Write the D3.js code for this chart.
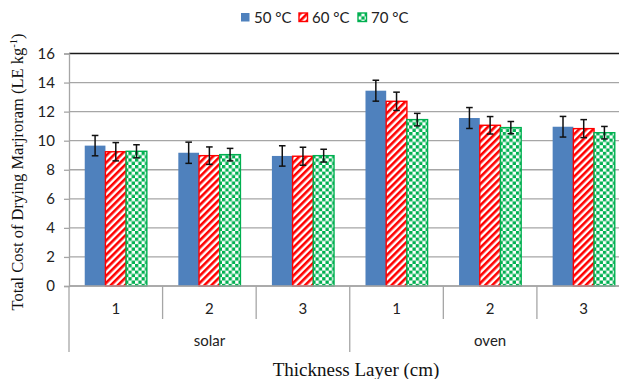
<!DOCTYPE html>
<html>
<head>
<meta charset="utf-8">
<script src="https://cdn.jsdelivr.net/npm/d3@7"></script>
<style>
  body { margin: 0; background: #fff; }
  svg { display: block; }
</style>
</head>
<body>
<script>
// data
var groups = ["solar", "oven"],
	layers = ["1", "2", "3"],
	seriesNames = ["50 °C", "60 °C", "70 °C"],
	cost50 = [9.66, 9.17, 8.95, 13.44, 11.56, 10.96],
	cost60 = [9.24, 8.97, 8.93, 12.71, 11.06, 10.83],
	cost70 = [9.27, 9.04, 8.97, 11.45, 10.90, 10.55],
	err50 = [0.70, 0.73, 0.70, 0.72, 0.72, 0.71],
	err60 = [0.63, 0.60, 0.62, 0.63, 0.60, 0.62],
	err70 = [0.45, 0.43, 0.44, 0.43, 0.42, 0.43],
	yTicks = [0, 2, 4, 6, 8, 10, 12, 14, 16];

var w = 619,
	h = 379,
	plotLeft = 69,
	plotRight = 630.5,
	plotTop = 53.5,
	base = 286,
	font = "Lato, 'Open Sans', sans-serif",
	serif = "'Liberation Serif', 'Times New Roman', serif";

var costs = [cost50, cost60, cost70],
	errs = [err50, err60, err70],
	fills = ["#4f81bd", "url(#stripes)", "url(#checks)"],
	strokes = ["none", "#ff0000", "#00b050"];

// one slot per (group, layer)
var slots = [];
groups.forEach(function(g, gi){
	layers.forEach(function(l, li){
		slots.push({group: g, layer: l, idx: gi * layers.length + li});
	});
});

var svg = d3.select("body")
	.append("svg")
	.attr("width", w)
	.attr("height", h);

var defs = svg.append("defs");
var st = defs.append("pattern")
	.attr("id", "stripes")
	.attr("patternUnits", "userSpaceOnUse")
	.attr("width", 5).attr("height", 5)
	.attr("patternTransform", "rotate(45)");
st.append("rect").attr("width", 5).attr("height", 5).attr("fill", "#fff");
st.append("rect").attr("width", 2.6).attr("height", 5).attr("fill", "#ff0000");

var ck = defs.append("pattern")
	.attr("id", "checks")
	.attr("patternUnits", "userSpaceOnUse")
	.attr("width", 6.6).attr("height", 6.6);
ck.append("rect").attr("width", 6.6).attr("height", 6.6).attr("fill", "#fff");
ck.append("rect").attr("width", 3.3).attr("height", 3.3).attr("fill", "#00b050");
ck.append("rect").attr("x", 3.3).attr("y", 3.3).attr("width", 3.3).attr("height", 3.3).attr("fill", "#00b050");

var x = d3.scaleBand()
	.domain(slots.map(function(d){ return d.idx; }))
	.range([plotLeft, plotRight]);

var xs = d3.scaleBand()
	.domain(d3.range(seriesNames.length))
	.range([0, x.bandwidth()])
	.paddingOuter(0.76);

var y = d3.scaleLinear()
	.domain([0, 16])
	.range([base, plotTop]);

// gridlines
svg.append("g").selectAll("line")
	.data(yTicks)
	.enter()
	.append("line")
	.attr("x1", plotLeft).attr("x2", plotRight)
	.attr("y1", function(d){ return y(d); })
	.attr("y2", function(d){ return y(d); })
	.attr("stroke", function(d){ return d === 16 ? "#1a1a1a" : "#a6a6a6"; })
	.attr("stroke-width", function(d){ return d === 16 ? 1.6 : 1.3; });

// y axis
var yAxis = svg.append("g")
	.attr("transform", "translate(" + plotLeft + ",0)")
	.call(d3.axisLeft(y).tickValues(yTicks).tickSize(5).tickPadding(9));
yAxis.select(".domain").attr("stroke", "#a6a6a6").attr("stroke-width", 1.3);
yAxis.selectAll(".tick line").attr("stroke", "#a6a6a6").attr("stroke-width", 1.3);
yAxis.selectAll("text")
	.attr("font-family", font)
	.attr("font-size", 15)
	.attr("fill", "#222");

// bars
var cols = svg.append("g").selectAll("g")
	.data(slots)
	.enter()
	.append("g")
	.attr("transform", function(d){ return "translate(" + x(d.idx) + ",0)"; });

seriesNames.forEach(function(name, si){
	cols.append("rect")
		.attr("x", xs(si))
		.attr("width", xs.bandwidth())
		.attr("y", function(d){ return y(costs[si][d.idx]); })
		.attr("height", function(d){ return base - y(costs[si][d.idx]); })
		.attr("fill", fills[si])
		.attr("stroke", strokes[si])
		.attr("stroke-width", 1.4);
});

// error bars
seriesNames.forEach(function(name, si){
	var eb = cols.append("g")
		.attr("stroke", "#111")
		.attr("stroke-width", 1.5);
	var cx = xs(si) + xs.bandwidth() / 2;
	eb.append("line")
		.attr("x1", cx).attr("x2", cx)
		.attr("y1", function(d){ return y(costs[si][d.idx] + errs[si][d.idx]); })
		.attr("y2", function(d){ return y(costs[si][d.idx] - errs[si][d.idx]); });
	eb.append("line")
		.attr("x1", cx - 3.3).attr("x2", cx + 3.3)
		.attr("y1", function(d){ return y(costs[si][d.idx] + errs[si][d.idx]); })
		.attr("y2", function(d){ return y(costs[si][d.idx] + errs[si][d.idx]); });
	eb.append("line")
		.attr("x1", cx - 3.3).attr("x2", cx + 3.3)
		.attr("y1", function(d){ return y(costs[si][d.idx] - errs[si][d.idx]); })
		.attr("y2", function(d){ return y(costs[si][d.idx] - errs[si][d.idx]); });
});

// baseline
svg.append("line")
	.attr("x1", plotLeft).attr("x2", plotRight)
	.attr("y1", base).attr("y2", base)
	.attr("stroke", "#a6a6a6").attr("stroke-width", 1.5);

// category axis: separators, layer labels, group labels
var seps = svg.append("g").attr("stroke", "#a6a6a6").attr("stroke-width", 1.3);
slots.forEach(function(d){
	var isGroupEdge = (d.idx % layers.length) === 0;
	seps.append("line")
		.attr("x1", x(d.idx)).attr("x2", x(d.idx))
		.attr("y1", base).attr("y2", isGroupEdge ? 352 : 319);
});
seps.append("line")
	.attr("x1", plotRight).attr("x2", plotRight)
	.attr("y1", base).attr("y2", 352);

svg.append("g").selectAll("text")
	.data(slots)
	.enter()
	.append("text")
	.attr("x", function(d){ return x(d.idx) + x.bandwidth() / 2; })
	.attr("y", 314)
	.attr("text-anchor", "middle")
	.attr("font-family", font)
	.attr("font-size", 15)
	.attr("fill", "#222")
	.text(function(d){ return d.layer; });

svg.append("g").selectAll("text")
	.data(groups)
	.enter()
	.append("text")
	.attr("x", function(g, gi){
		var a = x(gi * layers.length), b = x((gi + 1) * layers.length - 1) + x.bandwidth();
		return (a + b) / 2;
	})
	.attr("y", 346)
	.attr("text-anchor", "middle")
	.attr("font-family", font)
	.attr("font-size", 15)
	.attr("fill", "#222")
	.text(function(d){ return d; });

// axis titles
svg.append("text")
	.attr("x", 356)
	.attr("y", 376)
	.attr("text-anchor", "middle")
	.attr("font-family", serif)
	.attr("font-size", 19)
	.attr("fill", "#111")
	.text("Thickness Layer (cm)");

var yt = svg.append("text")
	.attr("transform", "translate(23,172) rotate(-90)")
	.attr("text-anchor", "middle")
	.attr("font-family", serif)
	.attr("font-size", 16.5)
	.attr("fill", "#111");
yt.append("tspan").text("Total Cost of Drying Marjroram (LE kg");
yt.append("tspan").attr("font-size", 10.5).attr("dy", -6).text("-1");
yt.append("tspan").attr("dy", 6).text(")");

// legend
var legendX = [241, 299, 358];
var lg = svg.append("g").selectAll("g")
	.data(seriesNames)
	.enter()
	.append("g")
	.attr("transform", function(d, i){ return "translate(" + legendX[i] + ",13)"; });
lg.append("rect")
	.attr("width", 8.5).attr("height", 8.5)
	.attr("fill", function(d, i){ return fills[i]; })
	.attr("stroke", function(d, i){ return strokes[i]; })
	.attr("stroke-width", 1.4);
lg.append("text")
	.attr("x", 13)
	.attr("y", 9.5)
	.attr("font-family", font)
	.attr("font-size", 15)
	.attr("fill", "#222")
	.text(function(d){ return d; });
</script>
</body>
</html>
